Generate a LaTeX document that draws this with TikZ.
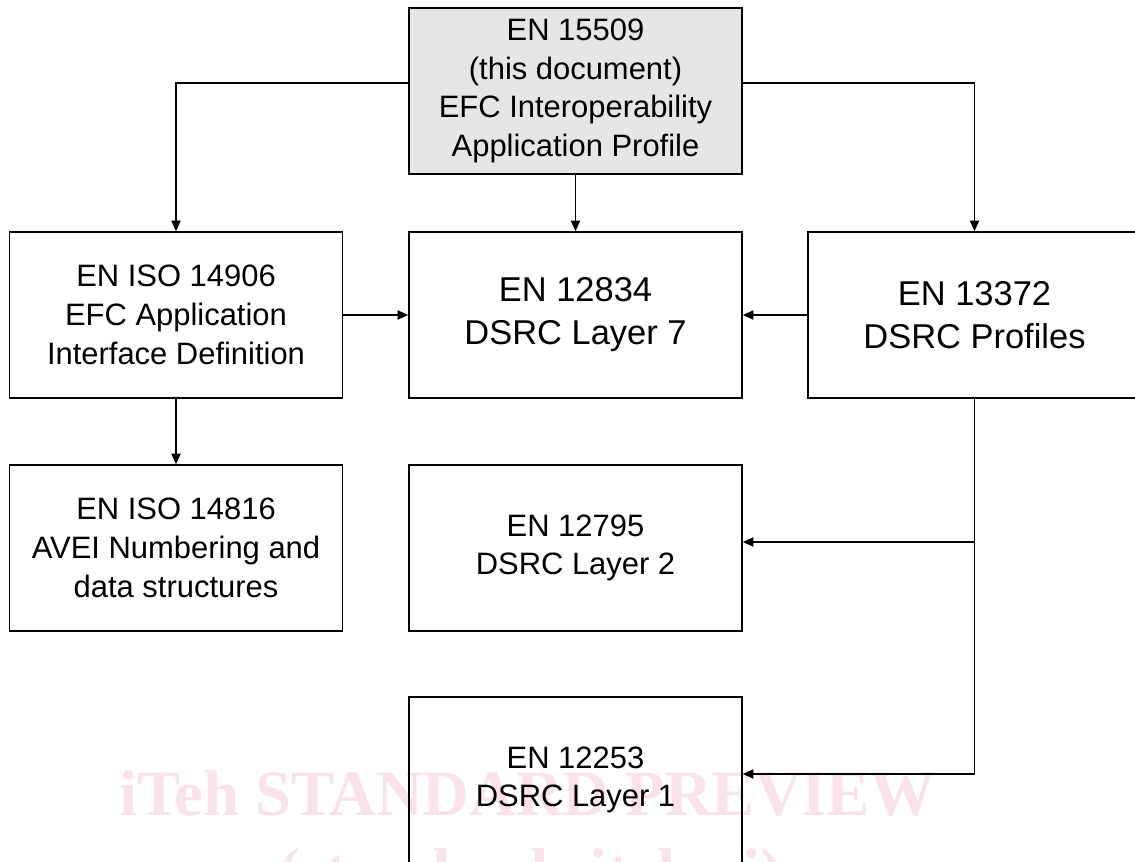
\documentclass[tikz,border=0pt]{standalone}
\usepackage{fontspec}
\setmainfont{Liberation Sans}
\newfontfamily\wmfont{Liberation Serif}
\usetikzlibrary{arrows.meta}
\definecolor{wmark}{RGB}{250,226,233}
\definecolor{boxgray}{RGB}{230,230,230}
\tikzset{box/.style={draw=black, line width=1.1pt, minimum width=8.325cm,
   minimum height=4.15cm, inner sep=0pt, align=center,
   font=\fontsize{22}{27.5}\selectfont},
 bigbox/.style={box, font=\fontsize{24.5}{30.6}\selectfont},
 graybox/.style={box, fill=boxgray},
 arr/.style={draw, line width=1.1pt, -{Triangle[length=7.5pt,width=6.5pt]}},
 }

\begin{document}
\begin{tikzpicture}[x=0.025cm, y=-0.025cm]
        \useasboundingbox (0,0) rectangle (1135,861);
        % watermark
        \node[wmark, anchor=base, font=\wmfont\bfseries\fontsize{46}{46}\selectfont] (wm1) at (527,815) {iTeh STANDARD PREVIEW};
        \node[wmark, anchor=base, font=\wmfont\bfseries\fontsize{46}{46}\selectfont] (wm2) at (530,893) {(standards.iteh.ai)};

        \node[graybox] (top) at (575.5,91) {EN 15509\\(this document)\\EFC Interoperability\\Application Profile};

        \node[box] (c1) at (176,315) {EN ISO 14906\\EFC Application\\Interface Definition};
        \node[bigbox] (c2) at (575.5,315) {EN 12834\\DSRC Layer 7};
        \node[bigbox] (c3) at (974.5,315) {EN 13372\\DSRC Profiles};

        \node[box] (d1) at (176,548) {EN ISO 14816\\AVEI Numbering and\\data structures};
        \node[box] (d2) at (575.5,548) {EN 12795\\DSRC Layer 2};
        \node[box] (e2) at (575.5,780) {EN 12253\\DSRC Layer 1};

        \draw[arr] ([yshift=0.2cm]top.west) -| (c1.north);
        \draw[arr] (top.south) -- (c2.north);
        \draw[arr] ([yshift=0.2cm]top.east) -| (c3.north);
        \draw[arr] (c1.east) -- (c2.west);
        \draw[arr] (c3.west) -- (c2.east);
        \draw[arr] (c1.south) -- (d1.north);

        \coordinate (j2) at ([yshift=0.15cm]d2.east -| c3.south);
        \draw[arr] (c3.south) |- ([yshift=0.15cm]e2.east);
        \draw[arr] (j2) -- ([yshift=0.15cm]d2.east);
    \end{tikzpicture}
\end{document}
